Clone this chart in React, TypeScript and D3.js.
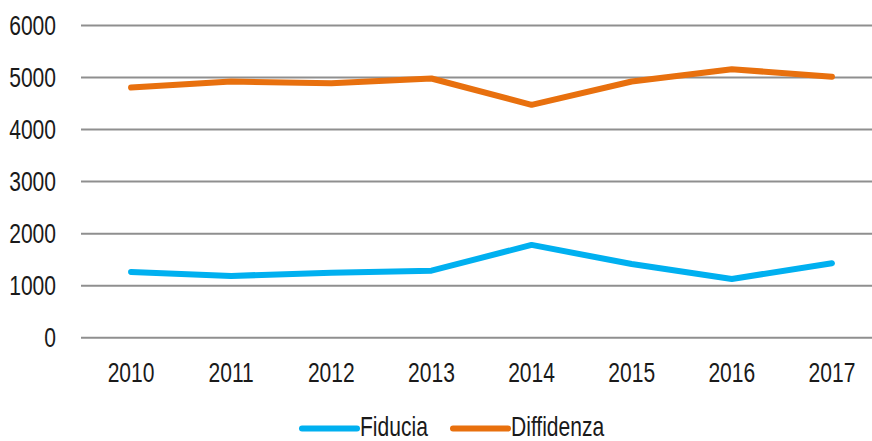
import React, { useEffect, useRef } from "react";
import * as d3 from "d3";

// anni sull'asse x
const years = ["2010", "2011", "2012", "2013", "2014", "2015", "2016", "2017"];
// valori
const fiducia = [1264, 1187, 1250, 1289, 1783, 1417, 1129, 1431];
const diffidenza = [4808, 4923, 4892, 4981, 4475, 4923, 5161, 5013];
const yTicks = [0, 1000, 2000, 3000, 4000, 5000, 6000];

const seriesNames = ["Fiducia", "Diffidenza"];
const seriesColors = ["#00B0F0", "#E8700E"];

const W = 872;
const H = 441;
const FONT = "'Liberation Sans', Arial, sans-serif";
const FS = 27;
const SX = 0.78; // font condensato

const App = () => {
  const ref = useRef<SVGSVGElement | null>(null);

  useEffect(() => {
    if (!ref.current) return;
    const svg = d3.select(ref.current);
    svg.selectAll("*").remove();

    const x = d3.scalePoint<string>().domain(years).range([81, 882]).padding(0.5);
    const y = d3.scaleLinear().domain([0, 6000]).range([337.7, 25.5]);

    const label = (
      g: d3.Selection<SVGGElement, unknown, null, undefined>,
      tx: number,
      ty: number,
      anchor: string,
      s: string
    ) =>
      g
        .append("text")
        .attr("transform", `translate(${tx},${ty}) scale(${SX},1)`)
        .attr("text-anchor", anchor)
        .attr("font-family", FONT)
        .attr("font-size", FS)
        .attr("fill", "#1a1a1a")
        .text(s);

    // griglia
    svg
      .append("g")
      .selectAll("line")
      .data(yTicks)
      .enter()
      .append("line")
      .attr("x1", 81)
      .attr("x2", W)
      .attr("y1", (d) => y(d))
      .attr("y2", (d) => y(d))
      .attr("stroke", "#8f8f8f")
      .attr("stroke-width", 2);

    // etichette asse y
    const gy = svg.append("g");
    yTicks.forEach((t) => label(gy, 56, y(t) + 9.7, "end", String(t)));

    // etichette asse x
    const gx = svg.append("g");
    years.forEach((yr) => label(gx, x(yr)!, 382, "middle", yr));

    const line = d3
      .line<number>()
      .x((_, i) => x(years[i])!)
      .y((d) => y(d));

    [fiducia, diffidenza].forEach((vals, i) => {
      svg
        .append("path")
        .datum(vals)
        .attr("fill", "none")
        .attr("stroke", seriesColors[i])
        .attr("stroke-width", 6)
        .attr("stroke-linecap", "round")
        .attr("stroke-linejoin", "round")
        .attr("d", line);
    });

    // legenda
    const legendX = [302, 453];
    const lg = svg.append("g");
    seriesNames.forEach((name, i) => {
      lg.append("line")
        .attr("x1", legendX[i])
        .attr("x2", legendX[i] + 55)
        .attr("y1", 428.5)
        .attr("y2", 428.5)
        .attr("stroke", seriesColors[i])
        .attr("stroke-width", 6)
        .attr("stroke-linecap", "round");
      label(lg, legendX[i] + 58, 435.5, "start", name);
    });
  }, []);

  return (
    <svg
      ref={ref}
      width={W}
      height={H}
      style={{ position: "absolute", left: 0, top: 0, background: "#fff" }}
    />
  );
};

export default App;
